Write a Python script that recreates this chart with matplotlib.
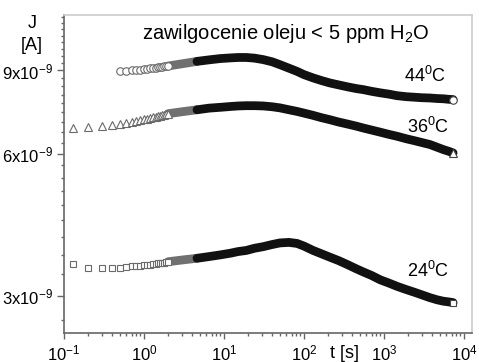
import matplotlib
matplotlib.use("Agg")
import matplotlib.pyplot as plt
from matplotlib.ticker import FixedLocator, LogLocator, NullFormatter

plt.rcParams["font.family"] = ["Liberation Sans", "DejaVu Sans"]
plt.rcParams["mathtext.fontset"] = "custom"
plt.rcParams["mathtext.rm"] = "Liberation Sans"
plt.rcParams["mathtext.it"] = "Liberation Sans:italic"
plt.rcParams["mathtext.bf"] = "Liberation Sans:bold"

# ── data (J in units of 1e-9 A, t in s)
# sparse early samples, drawn as open markers
T_EARLY = [0.13, 0.2, 0.3, 0.4, 0.5, 0.6, 0.7, 0.8, 0.9, 1.0,
           1.1, 1.2, 1.3, 1.4, 1.5, 1.6, 1.7, 1.8, 1.9, 2.0]
J24_EARLY = [3.50, 3.44, 3.44, 3.44, 3.44, 3.45, 3.46, 3.46, 3.47, 3.48,
             3.48, 3.49, 3.50, 3.50, 3.51, 3.51, 3.52, 3.52, 3.53, 3.54]
J36_EARLY = [6.81, 6.84, 6.88, 6.91, 6.94, 6.98, 7.01, 7.04, 7.07, 7.10,
             7.12, 7.14, 7.16, 7.18, 7.20, 7.22, 7.23, 7.25, 7.27, 7.29]
T44_EARLY = T_EARLY[4:]
J44_EARLY = [8.96, 8.98, 9.00, 9.02, 9.04, 9.06, 9.08, 9.09,
             9.11, 9.12, 9.14, 9.15, 9.17, 9.18, 9.19, 9.20]

# dense part of the record (markers merge into a solid band)
T_BAND = [2, 3, 4.6, 6.5, 9, 12, 15, 19, 24, 31, 40, 50, 65, 82, 100, 130, 165,
          210, 270, 350, 450, 546, 700, 900, 1150, 1450, 1900, 2400, 3000,
          3760, 4600, 5500, 6400, 7300]
J44_BAND = [9.20, 9.30, 9.41, 9.48, 9.54, 9.57, 9.59, 9.59, 9.56, 9.49, 9.39,
            9.26, 9.10, 8.96, 8.82, 8.68, 8.57, 8.47, 8.39, 8.31, 8.24, 8.20,
            8.13, 8.07, 8.02, 7.96, 7.92, 7.90, 7.88, 7.87, 7.85, 7.84, 7.82, 7.81]
J36_BAND = [7.29, 7.36, 7.43, 7.49, 7.52, 7.55, 7.57, 7.58, 7.58, 7.57, 7.54,
            7.50, 7.43, 7.37, 7.31, 7.23, 7.15, 7.08, 7.00, 6.93, 6.86, 6.80,
            6.73, 6.66, 6.59, 6.53, 6.45, 6.39, 6.33, 6.27, 6.19, 6.12, 6.07, 6.02]
J24_BAND = [3.54, 3.57, 3.60, 3.63, 3.66, 3.69, 3.72, 3.74, 3.78, 3.81, 3.85,
            3.88, 3.89, 3.87, 3.82, 3.74, 3.68, 3.62, 3.56, 3.49, 3.42, 3.37,
            3.31, 3.24, 3.19, 3.14, 3.09, 3.05, 3.01, 2.97, 2.94, 2.92, 2.91, 2.90]

SERIES = [
    ("44$^0$C", "o", 5.4, T44_EARLY, J44_EARLY, J44_BAND),
    ("36$^0$C", "^", 6.3, T_EARLY, J36_EARLY, J36_BAND),
    ("24$^0$C", "s", 4.8, T_EARLY, J24_EARLY, J24_BAND),
]

Y_TICKS = [3, 6, 9]
Y_TICK_LABELS = ["3x10$^{-9}$", "6x10$^{-9}$", "9x10$^{-9}$"]

fig = plt.figure(figsize=(4.79, 3.62), dpi=100)
ax = fig.add_axes([0.1336, 0.0801, 0.8518, 0.8785])

for label, mk, ms, t_e, j_e, j_b in SERIES:
    jb = [v * 1e-9 for v in j_b]
    ax.plot(t_e, [v * 1e-9 for v in j_e], ls="none", marker=mk, ms=ms,
            mfc="white", mec="#6a6a6a", mew=0.8, zorder=3)
    # where the markers start to merge the band is still grey
    ax.plot(T_BAND[:3], jb[:3], color="#707070", lw=6.3,
            solid_capstyle="round", solid_joinstyle="round", zorder=2)
    ax.plot(T_BAND[2:], jb[2:], color="#111111", lw=6.3,
            solid_capstyle="round", solid_joinstyle="round", zorder=2)
    ax.plot(T_BAND[-1], jb[-1], marker=mk, ms=ms,
            mfc="white", mec="#444444", mew=0.8, zorder=4)

ax.set_xscale("log")
ax.set_yscale("log")
ax.set_xlim(0.1, 12590)
ax.set_ylim(2.5e-9, 1.18e-8)

ax.xaxis.set_minor_locator(LogLocator(base=10, subs=range(2, 10)))
ax.xaxis.set_minor_formatter(NullFormatter())
ax.yaxis.set_major_locator(FixedLocator([v * 1e-9 for v in Y_TICKS]))
ax.set_yticklabels(Y_TICK_LABELS)
ax.yaxis.set_minor_locator(FixedLocator([k / 3 * 1e-9 for k in range(8, 36) if k % 9 != 0]))
ax.yaxis.set_minor_formatter(NullFormatter())

ax.tick_params(which="both", direction="out", color="#666666", labelsize=12)
ax.tick_params(axis="x", which="major", length=4.3, width=1, pad=3)
ax.tick_params(axis="x", which="minor", length=2.4, width=1)
ax.tick_params(axis="y", which="major", length=5, width=1, pad=3)
ax.tick_params(axis="y", which="minor", length=2.4, width=1)

for side in ["left", "bottom"]:
    ax.spines[side].set_color("#666666")
    ax.spines[side].set_linewidth(1.2)
for side in ["top", "right"]:
    ax.spines[side].set_color("#cccccc")
    ax.spines[side].set_linewidth(1.2)

ax.text(0.191, 0.925, "zawilgocenie oleju < 5 ppm H$_2$O", transform=ax.transAxes,
        fontsize=14.5, ha="left", va="baseline")
ax.text(0.833, 0.789, "44$^0$C", transform=ax.transAxes, fontsize=13, ha="left", va="baseline")
ax.text(0.841, 0.629, "36$^0$C", transform=ax.transAxes, fontsize=13, ha="left", va="baseline")
ax.text(0.841, 0.176, "24$^0$C", transform=ax.transAxes, fontsize=13, ha="left", va="baseline")

fig.text(0.067, 0.9227, "J", fontsize=13, ha="center", va="baseline")
fig.text(0.067, 0.862, "[A]", fontsize=13, ha="center", va="baseline")
fig.text(0.72, 0.012, "t [s]", fontsize=13, ha="center", va="baseline")

fig.savefig("out.png", dpi=100)
